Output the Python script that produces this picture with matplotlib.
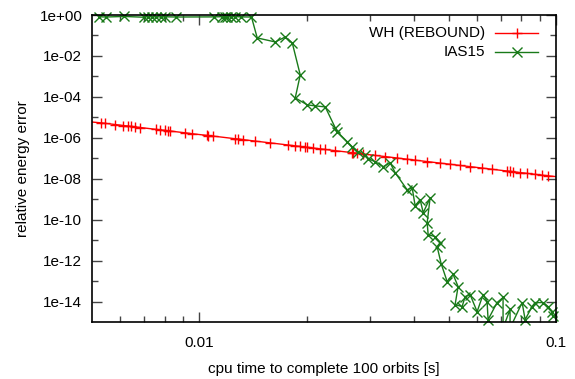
import numpy as np
import matplotlib
matplotlib.use("Agg")
import matplotlib.pyplot as plt
from matplotlib.lines import Line2D

plt.rcParams['font.family'] = ['Liberation Sans', 'DejaVu Sans']

# WH (REBOUND): cpu time [s], relative energy error
wh_time = [0.0048, 0.005315, 0.005454, 0.005817, 0.006124, 0.006325, 0.006449, 0.006618,
           0.006835, 0.00758, 0.007776, 0.008032, 0.008189, 0.008295, 0.009138, 0.009559,
           0.01053, 0.0106, 0.01094, 0.01261, 0.01286, 0.01328, 0.01435, 0.01581,
           0.01775, 0.01857, 0.01918, 0.01981, 0.02007, 0.02086, 0.02183, 0.02254,
           0.02404, 0.02683, 0.02701, 0.02771, 0.0288, 0.03112, 0.03319, 0.03585,
           0.03824, 0.04027, 0.04352, 0.04732, 0.05047, 0.05384, 0.05742, 0.06205,
           0.06618, 0.0729, 0.07432, 0.07578, 0.0793, 0.08294, 0.08733, 0.09138,
           0.09497, 0.103]
wh_err = [6.3e-6, 5.35e-6, 5.07e-6, 4.44e-6, 3.99e-6, 3.73e-6, 3.59e-6, 3.40e-6,
          3.18e-6, 2.57e-6, 2.44e-6, 2.28e-6, 2.19e-6, 2.13e-6, 1.75e-6, 1.58e-6,
          1.30e-6, 1.29e-6, 1.21e-6, 9.0e-7, 8.7e-7, 8.1e-7, 6.9e-7, 5.65e-7,
          4.44e-7, 4.03e-7, 3.77e-7, 3.52e-7, 3.43e-7, 3.16e-7, 2.88e-7, 2.69e-7,
          2.35e-7, 1.88e-7, 1.86e-7, 1.76e-7, 1.62e-7, 1.38e-7, 1.21e-7, 1.03e-7,
          9.0e-8, 8.1e-8, 6.9e-8, 5.8e-8, 5.1e-8, 4.45e-8, 3.9e-8, 3.33e-8,
          2.9e-8, 2.38e-8, 2.29e-8, 2.2e-8, 2.0e-8, 1.83e-8, 1.64e-8, 1.5e-8,
          1.39e-8, 1.2e-8]

# IAS15
ias_time = [0.00524, 0.00548, 0.00615, 0.00700, 0.00719, 0.00738, 0.00758, 0.00783,
            0.00803, 0.00860, 0.01100, 0.01160, 0.01182, 0.01197, 0.01226, 0.01257,
            0.01306, 0.01400, 0.01453, 0.01633, 0.01741, 0.01822, 0.01918, 0.01857,
            0.02007, 0.02113, 0.02254, 0.02404, 0.02436, 0.02598, 0.02683, 0.02789,
            0.02917, 0.02974, 0.03112, 0.03278, 0.03428, 0.0354, 0.03824, 0.03951,
            0.04027, 0.04159, 0.04243, 0.04436, 0.04352, 0.0438, 0.04581, 0.04732,
            0.04642, 0.04763, 0.04951, 0.05146, 0.05314, 0.05213, 0.05454, 0.05561,
            0.05742, 0.06008, 0.06245, 0.06408, 0.06449, 0.06834, 0.07104, 0.07104,
            0.07432, 0.07432, 0.08035, 0.08192, 0.08567, 0.08733, 0.09195, 0.09497,
            0.09745, 0.0981]
ias_err = [0.82, 0.80, 0.85, 0.78, 0.84, 0.80, 0.83, 0.79,
           0.82, 0.80, 0.81, 0.83, 0.79, 0.82, 0.80, 0.84,
           0.81, 0.80, 0.0758, 0.0482, 0.0845, 0.043, 1.18e-3, 8.9e-5,
           4.07e-5, 3.63e-5, 3.24e-5, 3.1e-6, 1.96e-6, 6.4e-7, 3.63e-7, 2.08e-7,
           1.48e-7, 9.5e-8, 6.8e-8, 3.9e-8, 6.0e-8, 1.96e-8, 2.9e-9, 3.6e-9,
           4.8e-10, 9.5e-10, 2.2e-10, 1.18e-9, 7.1e-11, 1.86e-11, 1.48e-11, 7.6e-12,
           4.8e-12, 7.1e-13, 9.5e-14, 2.1e-13, 5.4e-14, 7.1e-15, 5.7e-15, 1.74e-14,
           2.2e-14, 3.2e-15, 2.2e-14, 1.0e-14, 1.3e-15, 8.9e-15, 1.58e-14, 5e-16,
           4.1e-15, 5e-16, 8.9e-15, 1.3e-15, 5.7e-15, 8.9e-15, 8.9e-15, 5.7e-15,
           3.2e-15, 1.86e-15]

yticks = [1e0, 1e-2, 1e-4, 1e-6, 1e-8, 1e-10, 1e-12, 1e-14]
ylabels = ['1e+00', '1e-02', '1e-04', '1e-06', '1e-08', '1e-10', '1e-12', '1e-14']
yminor = [1e-1, 1e-3, 1e-5, 1e-7, 1e-9, 1e-11, 1e-13]
xticks = [0.01, 0.1]
xlabels = ['0.01', '0.1']
xminor = [0.006, 0.007, 0.008, 0.009, 0.02, 0.03, 0.04, 0.05, 0.06, 0.07, 0.08, 0.09]

red = '#ff0000'
green = '#197a19'

fig = plt.figure(figsize=(5.75, 3.79), dpi=100)
ax = fig.add_axes([0.16, 0.1504, 0.807, 0.81])

xmin, xmax = 0.005, 0.1
ymin, ymax = 1e-15, 1e0

# lines (clipped to the axes)
ax.plot(wh_time, wh_err, color=red, lw=1.0)
ax.plot(ias_time, ias_err, color=green, lw=1.0)

# markers, drawn unclipped like gnuplot but only inside the range
wt = np.array(wh_time); we = np.array(wh_err)
m = (wt >= xmin) & (wt <= xmax) & (we >= ymin) & (we <= ymax)
ax.plot(wt[m], we[m], ls='none', marker='+', ms=7, mew=1.0, color=red, clip_on=False)
it = np.array(ias_time); ie = np.array(ias_err)
m = (it >= xmin) & (it <= xmax) & (ie >= ymin) & (ie <= ymax)
ax.plot(it[m], ie[m], ls='none', marker='x', ms=6.5, mew=1.0, color=green, clip_on=False)

ax.set_xscale('log')
ax.set_yscale('log')
ax.set_xlim(xmin, xmax)
ax.set_ylim(ymin, ymax)

ax.set_yticks(yticks)
ax.set_yticklabels(ylabels)
ax.set_yticks(yminor, minor=True)
ax.set_yticklabels([], minor=True)
ax.set_xticks(xticks)
ax.set_xticklabels(xlabels)
ax.set_xticks(xminor, minor=True)
ax.set_xticklabels([], minor=True)

ax.tick_params(which='both', direction='in', top=True, right=True, labelsize=11,
               color='#444444', width=1.0)
ax.tick_params(which='major', length=7, pad=7)
ax.tick_params(which='minor', length=4)
ax.tick_params(axis='x', which='major', pad=10)
for s in ax.spines.values():
    s.set_linewidth(1.2)

ax.set_xlabel('cpu time to complete 100 orbits [s]', fontsize=11, labelpad=9)
ax.set_ylabel('relative energy error', fontsize=11, labelpad=7)

# key, gnuplot style: right-aligned text followed by a sample
tr = ax.transAxes
for label, col, mk, ms, yy in [('WH (REBOUND)', red, '+', 7, 0.941),
                               ('IAS15', green, 'x', 6.5, 0.879)]:
    ax.text(0.847, yy, label, transform=tr, ha='right', va='center', fontsize=11)
    ax.add_line(Line2D([0.8685, 0.961], [yy, yy], transform=tr, color=col, lw=1.0))
    ax.add_line(Line2D([0.915], [yy], transform=tr, color=col, marker=mk, ms=ms, mew=1.0))

fig.savefig('out.png', dpi=100)
